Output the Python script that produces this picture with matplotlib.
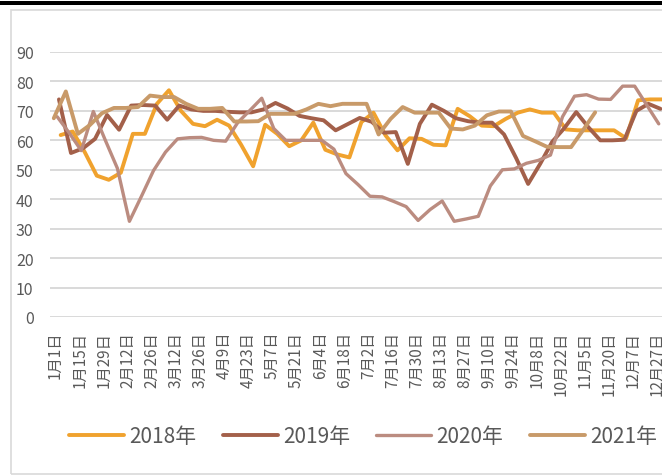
import numpy as np
import pandas as pd
import matplotlib
matplotlib.use("Agg")
import matplotlib.pyplot as plt
from matplotlib.patches import Rectangle

plt.rcParams['font.family'] = ['Noto Sans CJK SC', 'DejaVu Sans']

# ---------------- data ----------------
tick_labels = ["1月1日", "1月15日", "1月29日", "2月12日", "2月26日", "3月12日", "3月26日",
               "4月9日", "4月23日", "5月7日", "5月21日", "6月4日", "6月18日", "7月2日",
               "7月16日", "7月30日", "8月13日", "8月27日", "9月10日", "9月24日", "10月8日",
               "10月22日", "11月5日", "11月20日", "12月7日", "12月27日"]
series_names = ["2018年", "2019年", "2020年", "2021年"]
first_dates = ["2018-01-05", "2019-01-04", "2020-01-03", "2021-01-01"]

v2018 = [61.8, 63.0, 56.0, 48.0, 46.6, 49.0, 62.2, 62.2, 72.4, 77.0, 70.0, 65.6, 64.8, 67.0,
         65.0, 58.5, 51.2, 65.3, 62.2, 58.0, 60.0, 66.0, 56.8, 55.2, 54.2, 66.2, 69.4, 61.7,
         56.6, 60.7, 60.5, 58.5, 58.3, 70.7, 68.2, 65.0, 64.8, 67.3, 69.4, 70.5, 69.4, 69.4,
         63.7, 63.4, 63.4, 63.4, 63.4, 60.7, 73.6, 73.9, 73.9]
v2019 = [73.9, 55.7, 57.3, 60.5, 68.6, 63.6, 71.8, 72.0, 71.8, 67.0, 71.8, 70.5, 70.0, 70.0,
         69.7, 69.5, 69.5, 70.5, 72.7, 70.8, 68.3, 67.5, 66.8, 63.4, 65.5, 67.6, 66.3, 62.6,
         62.8, 52.0, 65.6, 72.1, 70.0, 67.5, 66.5, 66.0, 66.0, 62.0, 54.0, 45.2, 52.0, 59.5,
         64.1, 69.6, 64.5, 60.0, 60.0, 60.2, 70.0, 72.4, 70.7]
v2020 = [68.0, 62.5, 56.5, 69.8, 60.0, 50.5, 32.5, 41.0, 49.7, 56.0, 60.5, 60.9, 61.0, 60.0,
         59.7, 66.0, 70.1, 74.3, 64.0, 60.0, 60.0, 60.0, 60.0, 57.0, 48.7, 45.0, 41.0, 40.8,
         39.2, 37.5, 32.8, 36.5, 39.4, 32.5, 33.3, 34.2, 44.5, 50.0, 50.3, 52.2, 53.2, 55.0,
         68.0, 75.0, 75.5, 74.0, 73.9, 78.4, 78.4, 72.0, 65.6]
v2021 = [67.5, 76.6, 62.2, 65.2, 69.2, 71.0, 71.0, 71.3, 75.2, 74.7, 74.7, 72.4, 70.7, 70.7,
         71.0, 66.4, 66.4, 66.5, 69.0, 69.0, 69.0, 70.5, 72.4, 71.6, 72.4, 72.4, 72.4, 62.0,
         67.3, 71.3, 69.4, 69.4, 69.4, 64.0, 63.7, 65.0, 68.5, 69.8, 69.8, 61.5, 59.7, 57.8,
         57.7, 57.7, 63.5, 69.5]
values = [v2018, v2019, v2020, v2021]

# ---------------- style ----------------
colors = ["#F0A22E", "#A3604A", "#BB8C80", "#C89A69"]
widths = [2.8, 2.8, 2.4, 2.8]
W, H = 662, 477

fig = plt.figure(figsize=(W / 100, H / 100), dpi=100)
ax_left, ax_right, ax_top, ax_bot = 49.5, 49.5 + 52 * 12.03, 53, 318
ax = fig.add_axes([ax_left / W, 1 - ax_bot / H, (ax_right - ax_left) / W, (ax_bot - ax_top) / H])

for name, start, vals, c, lw in zip(series_names, first_dates, values, colors, widths):
    d = pd.date_range(start, periods=len(vals), freq="7D")
    x = (d - pd.Timestamp(d[0].year, 1, 1)).days.values
    ax.plot(x, vals, color=c, lw=lw, label=name, solid_joinstyle="round",
            solid_capstyle="round", zorder=3)

ticks = 1 + 14 * np.arange(len(tick_labels))
ax.set_xticks(ticks)
ax.set_xticklabels(tick_labels, rotation=90, fontsize=11, color="#595959")
ax.set_xlim(1 - 3.5, 1 - 3.5 + 52 * 7)
ax.set_ylim(0, 90)
ax.set_yticks(np.arange(0, 91, 10))
ax.tick_params(axis="y", length=0, pad=11.5, labelsize=11.5, labelcolor="#595959")
ax.tick_params(axis="x", length=0, pad=10)
for s in ax.spines.values():
    s.set_visible(False)
ax.grid(axis="y", color="#D9D9D9", lw=1.4, zorder=0)
ax.set_axisbelow(True)

leg = fig.legend(loc="center", bbox_to_anchor=(363 / W, 1 - 437 / H), ncol=4, frameon=False,
                 fontsize=15, handlelength=2.65, handletextpad=0.25, columnspacing=1.25,
                 labelcolor="#595959")

# chart-area border and top rule
fig.add_artist(Rectangle((10.5 / W, 2.5 / H), (720 - 10.5) / W, (466 - 2.5) / H,
                         transform=fig.transFigure, fill=False, edgecolor="#D9D9D9", lw=1.2))
fig.add_artist(Rectangle((0, 1 - 6 / H), 1, 4 / H, transform=fig.transFigure,
                         facecolor="black", edgecolor="none"))

fig.savefig("out.png", dpi=100)
